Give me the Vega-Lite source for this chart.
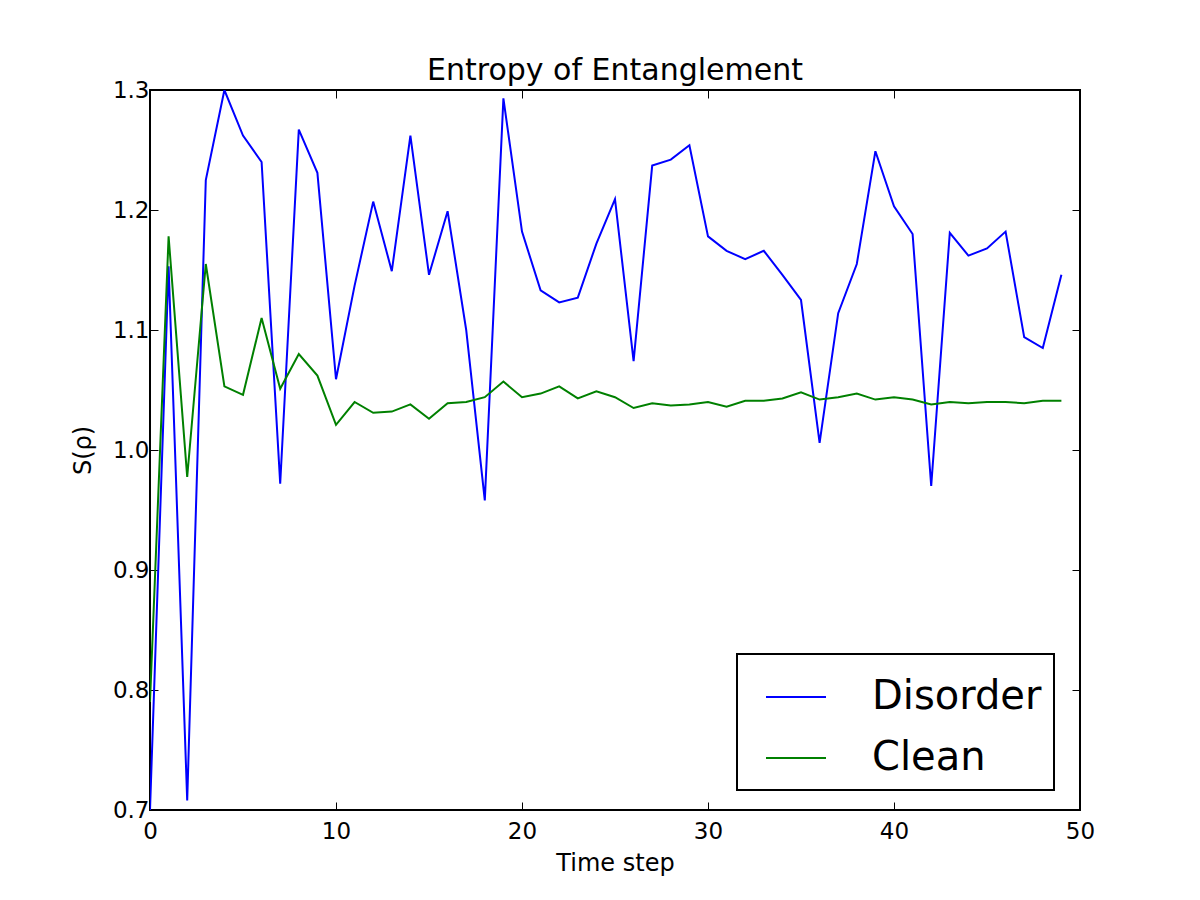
{
  "$schema": "https://vega.github.io/schema/vega-lite/v6.json",
  "width": 930,
  "height": 720,
  "autosize": {"type": "none"},
  "padding": {"left": 150, "top": 90, "right": 120, "bottom": 90},
  "background": "white",
  "title": {"text": "Entropy of Entanglement", "fontSize": 30, "fontWeight": "normal", "font": "DejaVu Sans", "color": "black", "offset": -31, "baseline": "alphabetic"},
  "config": {
    "font": "DejaVu Sans",
    "view": {"stroke": "black", "strokeWidth": 2},
    "axis": {"grid": false, "domain": false, "tickColor": "black", "tickSize": -8, "tickWidth": 1, "labelFontSize": 23, "labelColor": "black", "labelFlush": false, "titleFontSize": 24, "titleFontWeight": "normal", "titleColor": "black"}
  },
  "datasets": {
    "d": [
      {"t":0,"series":"Disorder","S":0.70},{"t":1,"series":"Disorder","S":1.153},{"t":2,"series":"Disorder","S":0.708},{"t":3,"series":"Disorder","S":1.225},{"t":4,"series":"Disorder","S":1.300},{"t":5,"series":"Disorder","S":1.262},{"t":6,"series":"Disorder","S":1.240},{"t":7,"series":"Disorder","S":0.972},{"t":8,"series":"Disorder","S":1.267},{"t":9,"series":"Disorder","S":1.231},
      {"t":10,"series":"Disorder","S":1.059},{"t":11,"series":"Disorder","S":1.137},{"t":12,"series":"Disorder","S":1.207},{"t":13,"series":"Disorder","S":1.149},{"t":14,"series":"Disorder","S":1.262},{"t":15,"series":"Disorder","S":1.146},{"t":16,"series":"Disorder","S":1.199},{"t":17,"series":"Disorder","S":1.100},{"t":18,"series":"Disorder","S":0.958},{"t":19,"series":"Disorder","S":1.293},
      {"t":20,"series":"Disorder","S":1.182},{"t":21,"series":"Disorder","S":1.133},{"t":22,"series":"Disorder","S":1.123},{"t":23,"series":"Disorder","S":1.127},{"t":24,"series":"Disorder","S":1.172},{"t":25,"series":"Disorder","S":1.209},{"t":26,"series":"Disorder","S":1.074},{"t":27,"series":"Disorder","S":1.237},{"t":28,"series":"Disorder","S":1.242},{"t":29,"series":"Disorder","S":1.254},
      {"t":30,"series":"Disorder","S":1.178},{"t":31,"series":"Disorder","S":1.166},{"t":32,"series":"Disorder","S":1.159},{"t":33,"series":"Disorder","S":1.166},{"t":34,"series":"Disorder","S":1.146},{"t":35,"series":"Disorder","S":1.125},{"t":36,"series":"Disorder","S":1.006},{"t":37,"series":"Disorder","S":1.114},{"t":38,"series":"Disorder","S":1.155},{"t":39,"series":"Disorder","S":1.249},
      {"t":40,"series":"Disorder","S":1.203},{"t":41,"series":"Disorder","S":1.180},{"t":42,"series":"Disorder","S":0.970},{"t":43,"series":"Disorder","S":1.181},{"t":44,"series":"Disorder","S":1.162},{"t":45,"series":"Disorder","S":1.168},{"t":46,"series":"Disorder","S":1.182},{"t":47,"series":"Disorder","S":1.094},{"t":48,"series":"Disorder","S":1.085},{"t":49,"series":"Disorder","S":1.146},
      {"t":0,"series":"Clean","S":0.79},{"t":1,"series":"Clean","S":1.178},{"t":2,"series":"Clean","S":0.9775},{"t":3,"series":"Clean","S":1.155},{"t":4,"series":"Clean","S":1.053},{"t":5,"series":"Clean","S":1.046},{"t":6,"series":"Clean","S":1.110},{"t":7,"series":"Clean","S":1.051},{"t":8,"series":"Clean","S":1.080},{"t":9,"series":"Clean","S":1.062},
      {"t":10,"series":"Clean","S":1.021},{"t":11,"series":"Clean","S":1.040},{"t":12,"series":"Clean","S":1.031},{"t":13,"series":"Clean","S":1.032},{"t":14,"series":"Clean","S":1.038},{"t":15,"series":"Clean","S":1.026},{"t":16,"series":"Clean","S":1.039},{"t":17,"series":"Clean","S":1.040},{"t":18,"series":"Clean","S":1.044},{"t":19,"series":"Clean","S":1.057},
      {"t":20,"series":"Clean","S":1.044},{"t":21,"series":"Clean","S":1.047},{"t":22,"series":"Clean","S":1.053},{"t":23,"series":"Clean","S":1.043},{"t":24,"series":"Clean","S":1.049},{"t":25,"series":"Clean","S":1.044},{"t":26,"series":"Clean","S":1.035},{"t":27,"series":"Clean","S":1.039},{"t":28,"series":"Clean","S":1.037},{"t":29,"series":"Clean","S":1.038},
      {"t":30,"series":"Clean","S":1.040},{"t":31,"series":"Clean","S":1.036},{"t":32,"series":"Clean","S":1.041},{"t":33,"series":"Clean","S":1.041},{"t":34,"series":"Clean","S":1.043},{"t":35,"series":"Clean","S":1.048},{"t":36,"series":"Clean","S":1.042},{"t":37,"series":"Clean","S":1.044},{"t":38,"series":"Clean","S":1.047},{"t":39,"series":"Clean","S":1.042},
      {"t":40,"series":"Clean","S":1.044},{"t":41,"series":"Clean","S":1.042},{"t":42,"series":"Clean","S":1.038},{"t":43,"series":"Clean","S":1.040},{"t":44,"series":"Clean","S":1.039},{"t":45,"series":"Clean","S":1.040},{"t":46,"series":"Clean","S":1.040},{"t":47,"series":"Clean","S":1.039},{"t":48,"series":"Clean","S":1.041},{"t":49,"series":"Clean","S":1.041}
    ]
  },
  "data": {"name": "d"},
  "layer": [
    {
      "mark": {"type": "line", "strokeWidth": 2, "clip": true},
      "encoding": {
        "x": {"field": "t", "type": "quantitative", "scale": {"domain": [0, 50], "nice": false, "zero": false},
              "axis": {"orient": "bottom", "title": "Time step", "values": [0,10,20,30,40,50], "labelPadding": 18, "titlePadding": 8}},
        "y": {"field": "S", "type": "quantitative", "scale": {"domain": [0.7, 1.3], "nice": false, "zero": false},
              "axis": {"orient": "left", "title": "S(ρ)", "values": [0.7,0.8,0.9,1.0,1.1,1.2,1.3], "format": ".1f", "labelPadding": 9, "titlePadding": 17}},
        "color": {"field": "series", "type": "nominal",
                  "scale": {"domain": ["Disorder", "Clean"], "range": ["#0000ff", "#008000"]},
                  "legend": {"orient": "none", "legendX": 587, "legendY": 564, "title": null,
                             "strokeColor": "black", "fillColor": "white",
                             "padding": 12, "symbolType": "stroke", "symbolSize": 3600, "symbolStrokeWidth": 2,
                             "symbolOffset": 16, "labelOffset": 45, "labelFontSize": 40, "labelColor": "black",
                             "rowPadding": 10, "labelLimit": 400,
                             "encode": {"legend": {"update": {"strokeWidth": {"value": 2}}}}}},
        "order": {"field": "t", "type": "quantitative"}
      }
    },
    {
      "mark": {"type": "point", "opacity": 0},
      "encoding": {
        "x": {"field": "t", "type": "quantitative", "axis": {"orient": "top", "title": null, "labels": false, "values": [0,10,20,30,40,50]}},
        "y": {"field": "S", "type": "quantitative", "axis": {"orient": "right", "title": null, "labels": false, "values": [0.7,0.8,0.9,1.0,1.1,1.2,1.3]}}
      }
    }
  ],
  "resolve": {"axis": {"x": "independent", "y": "independent"}}
}
